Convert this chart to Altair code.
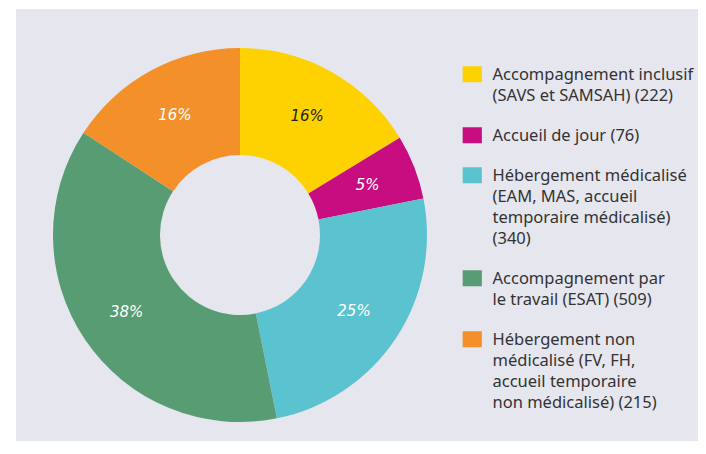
import altair as alt
import pandas as pd

categories = [
    "Accompagnement inclusif|(SAVS et SAMSAH) (222)",
    "Accueil de jour (76)",
    "Hébergement médicalisé|(EAM, MAS, accueil|temporaire médicalisé)|(340)",
    "Accompagnement par|le travail (ESAT) (509)",
    "Hébergement non|médicalisé (FV, FH,|accueil temporaire|non médicalisé) (215)",
]
values = [222, 76, 340, 509, 215]
pct_labels = ["16%", "5%", "25%", "38%", "16%"]
colors = ["#FDD200", "#C70D80", "#5BC2CF", "#579C72", "#F39029"]
text_colors = ["#222222", "#FFFFFF", "#FFFFFF", "#FFFFFF", "#FFFFFF"]

df = pd.DataFrame({
    "cat": categories,
    "value": values,
    "pct": pct_labels,
    "idx": list(range(len(values))),
    "tcol": text_colors,
})

cx, cy = 224, 226

base = alt.Chart(df).encode(
    theta=alt.Theta("value:Q", stack=True),
    order=alt.Order("idx:O"),
)

arcs = base.mark_arc(outerRadius=187, innerRadius=80, strokeWidth=0).encode(
    x=alt.value(cx),
    y=alt.value(cy),
    color=alt.Color(
        "cat:N",
        scale=alt.Scale(domain=categories, range=colors),
        sort=categories,
        legend=alt.Legend(
            title=None,
            orient="none",
            legendX=448,
            legendY=50,
            direction="vertical",
            columns=1,
            padding=0,
            rowPadding=15,
            symbolType="M-1.2,-0.125H1.2V1.875H-1.2Z",
            symbolSize=256,
            symbolStrokeWidth=0,
            symbolOpacity=1,
            labelExpr="split(datum.label, '|')",
            labelBaseline="top",
            labelFont="Noto Sans",
            labelFontSize=16.5,
            labelColor="#333333",
            labelOffset=12,
            labelLimit=0,
        ),
    ),
)

labels = base.mark_text(radius=137, font="DejaVu Sans", fontStyle="oblique", fontSize=15).encode(
    x=alt.value(cx),
    y=alt.value(cy),
    text="pct:N",
    color=alt.Color("tcol:N", scale=None),
)

chart = (
    alt.layer(arcs, labels)
    .properties(
        width=682,
        height=432,
        autosize=alt.AutoSizeParams(type="none"),
        padding={"left": 8, "top": 1, "right": 0, "bottom": 0},
        background="#FFFFFF",
    )
    .configure(style={"guide-label": {"lineHeight": 21}})
    .configure_view(fill="#E6E6EF", strokeWidth=0)
)

chart.save("out.html", embed_options={"renderer": "svg", "actions": False})
